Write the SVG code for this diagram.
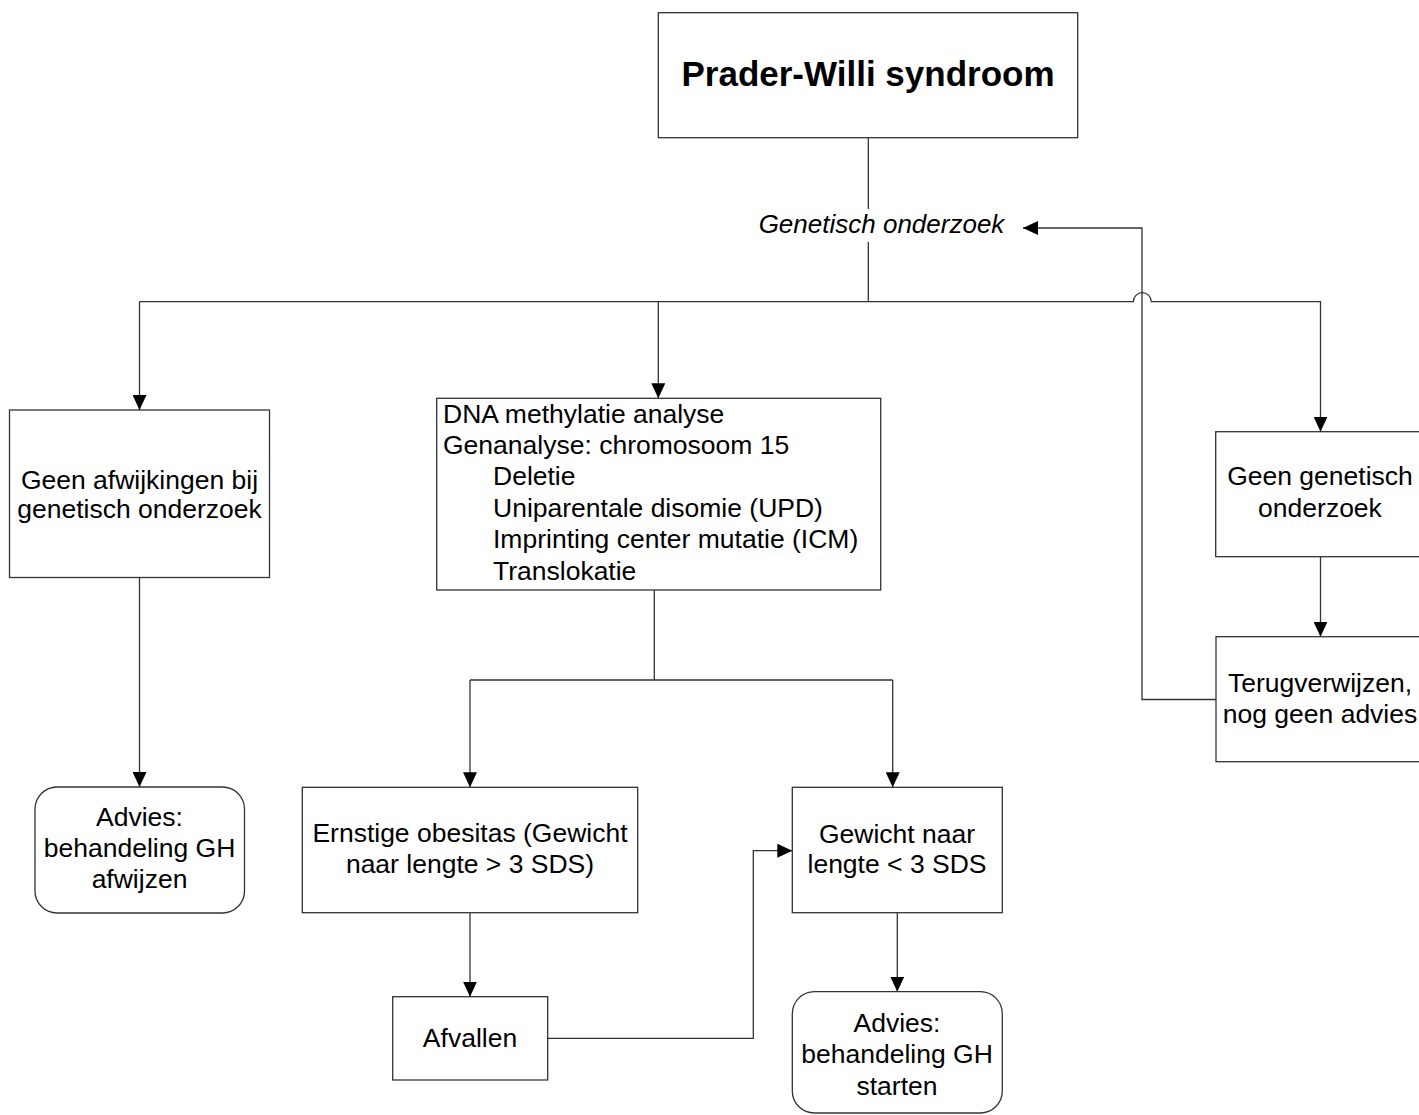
<svg xmlns="http://www.w3.org/2000/svg" width="1419" height="1115" viewBox="0 0 1419 1115">
<style>
.box{fill:#fff;stroke:#333;stroke-width:1.3}
.ln{fill:none;stroke:#333;stroke-width:1.3}
.t{font-family:"Liberation Sans",Arial,sans-serif;font-size:26.5px;fill:#000;text-anchor:middle}
.tl{font-family:"Liberation Sans",Arial,sans-serif;font-size:26.5px;fill:#000}
</style>
<defs>
<marker id="ah" markerUnits="userSpaceOnUse" markerWidth="16" markerHeight="14" refX="15" refY="7" orient="auto">
<path d="M0,0 L15,7 L0,14 z" fill="#000"/>
</marker>
</defs>
<rect width="1419" height="1115" fill="#fff"/>
<g id="connectors">
<path class="ln" d="M868.3,138 V209"/>
<path class="ln" d="M868.3,242 V301.7"/>
<path class="ln" d="M139.5,301.7 H1133.3 A9,9 0 0 1 1151.3,301.7 H1320.5 V431.7" marker-end="url(#ah)"/>
<path class="ln" d="M139.5,301.7 V410" marker-end="url(#ah)"/>
<path class="ln" d="M658.3,301.7 V398.3" marker-end="url(#ah)"/>
<path class="ln" d="M139.5,577.5 V787" marker-end="url(#ah)"/>
<path class="ln" d="M654.3,590 V680 M470,680 H892.7"/>
<path class="ln" d="M470,680 V787.3" marker-end="url(#ah)"/>
<path class="ln" d="M892.7,680 V787.3" marker-end="url(#ah)"/>
<path class="ln" d="M470,912.7 V996.7" marker-end="url(#ah)"/>
<path class="ln" d="M547.7,1038.3 H753.3 V850.7 H792.3" marker-end="url(#ah)"/>
<path class="ln" d="M897.3,912.7 V991.7" marker-end="url(#ah)"/>
<path class="ln" d="M1320.5,556.7 V636.7" marker-end="url(#ah)"/>
<path class="ln" d="M1216,699.5 H1142 V228 H1023" marker-end="url(#ah)"/>
<text x="881.5" y="233" style="font-family:'Liberation Sans',Arial,sans-serif;font-size:26px;font-style:italic;text-anchor:middle">Genetisch onderzoek</text>
</g>
<g id="n-title">
<rect class="box" x="658.3" y="12.7" width="419.4" height="125"/>
<text x="868" y="86" style="font-family:'Liberation Sans',Arial,sans-serif;font-size:35px;font-weight:bold;text-anchor:middle">Prader-Willi syndroom</text>
</g>
<g id="n-geen-afw">
<rect class="box" x="9.5" y="410" width="260" height="167.5"/>
<text class="t" x="139.5" y="489">Geen afwijkingen bij</text>
<text class="t" x="139.5" y="518">genetisch onderzoek</text>
</g>
<g id="n-dna">
<rect class="box" x="436.7" y="398.3" width="444" height="191.7"/>
<text class="tl" x="443" y="423">DNA methylatie analyse</text>
<text class="tl" x="443" y="453.5">Genanalyse: chromosoom 15</text>
<text class="tl" x="493" y="485">Deletie</text>
<text class="tl" x="493" y="516.5">Uniparentale disomie (UPD)</text>
<text class="tl" x="493" y="548">Imprinting center mutatie (ICM)</text>
<text class="tl" x="493" y="579.5">Translokatie</text>
</g>
<g id="n-geen-gen">
<rect class="box" x="1215.7" y="431.7" width="210" height="125"/>
<text class="t" x="1320" y="485">Geen genetisch</text>
<text class="t" x="1320" y="516.7">onderzoek</text>
</g>
<g id="n-terug">
<rect class="box" x="1216" y="636.7" width="210" height="125"/>
<text class="t" x="1320" y="691.7">Terugverwijzen,</text>
<text class="t" x="1320" y="723.3">nog geen advies</text>
</g>
<g id="n-afwijzen">
<rect class="box" x="35" y="787" width="209.5" height="126" rx="22"/>
<text class="t" x="139.5" y="826">Advies:</text>
<text class="t" x="139.5" y="857">behandeling GH</text>
<text class="t" x="139.5" y="888">afwijzen</text>
</g>
<g id="n-obesitas">
<rect class="box" x="302.3" y="787.3" width="335.4" height="125.4"/>
<text class="t" x="470" y="841.7">Ernstige obesitas (Gewicht</text>
<text class="t" x="470" y="873.3">naar lengte &gt; 3 SDS)</text>
</g>
<g id="n-afvallen">
<rect class="box" x="392.7" y="996.7" width="155" height="83.3"/>
<text class="t" x="470" y="1046.7">Afvallen</text>
</g>
<g id="n-gewicht">
<rect class="box" x="792.3" y="787.3" width="210" height="125.4"/>
<text class="t" x="897" y="843.3">Gewicht naar</text>
<text class="t" x="897" y="873.3">lengte &lt; 3 SDS</text>
</g>
<g id="n-starten">
<rect class="box" x="792.3" y="991.7" width="210" height="121.3" rx="22"/>
<text class="t" x="897" y="1031.7">Advies:</text>
<text class="t" x="897" y="1063.3">behandeling GH</text>
<text class="t" x="897" y="1095">starten</text>
</g>
</svg>
